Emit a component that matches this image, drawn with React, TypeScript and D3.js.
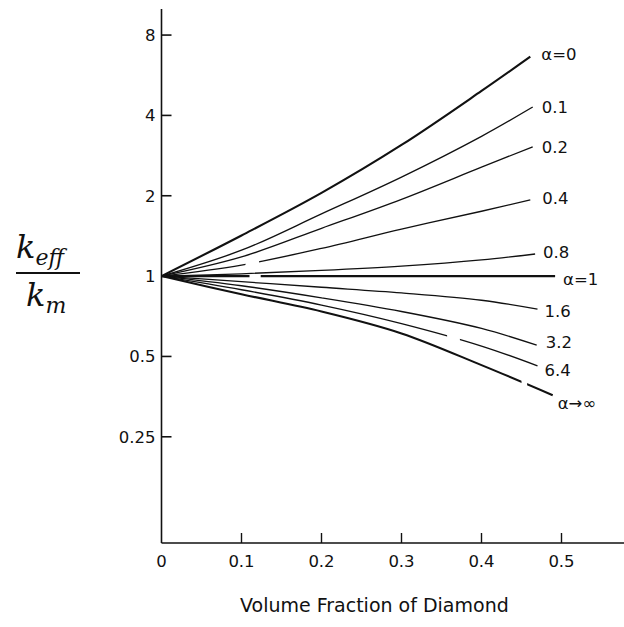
import React from "react";
import * as d3 from "d3";

// Volume fraction sample positions (x) for each curve
const phiGrid = [0, 0.1, 0.2, 0.3, 0.4];

// Curve labels and values (k_eff / k_m)
const curveNames = ["α=0", "0.1", "0.2", "0.4", "0.8", "α=1", "1.6", "3.2", "6.4", "α→∞"];
const curveEndPhi = [0.461, 0.464, 0.464, 0.461, 0.467, 0.492, 0.47, 0.469, 0.47, 0.489];
const valsA0 = [1, 1.42, 2.05, 3.1, 4.94, 6.64];
const valsA01 = [1, 1.25, 1.71, 2.35, 3.34, 4.3];
const valsA02 = [1, 1.18, 1.51, 1.94, 2.56, 3.05];
const valsA04 = [1, 1.1, 1.27, 1.5, 1.75, 1.93];
const valsA08 = [1, 1.02, 1.05, 1.09, 1.15, 1.21];
const valsA1 = [1, 1, 1, 1, 1, 1];
const valsA16 = [1, 0.953, 0.908, 0.865, 0.812, 0.752];
const valsA32 = [1, 0.92, 0.829, 0.737, 0.637, 0.551];
const valsA64 = [1, 0.889, 0.779, 0.664, 0.547, 0.461];
const valsAinf = [1, 0.855, 0.737, 0.61, 0.464, 0.358];
const allVals = [valsA0, valsA01, valsA02, valsA04, valsA08, valsA1, valsA16, valsA32, valsA64, valsAinf];
// small breaks in the printed lines (volume-fraction ranges)
const curveGaps: [number, number][][] = [[], [], [], [[0.105, 0.122]], [], [[0.11, 0.124]], [], [], [[0.357, 0.373]], [[0.45, 0.457]]];

const xTicks = [0, 0.1, 0.2, 0.3, 0.4, 0.5];
const xTickLabels = ["0", "0.1", "0.2", "0.3", "0.4", "0.5"];
const yTicks = [8, 4, 2, 1, 0.5, 0.25];
const yTickLabels = ["8", "4", "2", "1", "0.5", "0.25"];

const W = 624;
const H = 627;

export default function App() {
  const x = d3.scaleLinear().domain([0, 0.58]).range([161.5, 625.5]);
  const y = d3.scaleLog().domain([0.1, 10]).range([543, 9.2]);
  const line = d3
    .line<[number, number]>()
    .x((d) => x(d[0]))
    .y((d) => y(d[1]))
    .curve(d3.curveCatmullRom.alpha(0.5));

  const thick = new Set([0, 5, 9]);
  const labelFont = "'DejaVu Sans', 'Lato', sans-serif";

  // label offsets relative to curve end
  const labelDx = [11, 9, 9, 12, 8, 8, 7, 9, 7, 5];
  const labelDy = [-3, 0, 0, -2, -2, 3, 2, -3, 4, 8];

  return (
    <svg
      width={W}
      height={H}
      style={{ position: "absolute", left: 0, top: 0, background: "#fff" }}
    >
      <rect x={0} y={0} width={W} height={H} fill="#fff" />
      <defs>
        {curveGaps.map((gaps, i) =>
          gaps.length ? (
            <mask id={"gap" + i} key={"m" + i} maskUnits="userSpaceOnUse" x={0} y={0} width={W} height={H}>
              <rect x={0} y={0} width={W} height={H} fill="#fff" />
              {gaps.map((g, j) => (
                <rect key={j} x={x(g[0])} y={0} width={x(g[1]) - x(g[0])} height={H} fill="#000" />
              ))}
            </mask>
          ) : null
        )}
      </defs>
      {/* axes */}
      <line x1={x(0)} x2={x(0)} y1={9} y2={y(0.1)} stroke="#111" strokeWidth={1.6} />
      <line x1={x(0)} x2={W} y1={y(0.1)} y2={y(0.1)} stroke="#111" strokeWidth={1.6} />
      {yTicks.map((t, i) => (
        <g key={"yt" + i}>
          <line x1={x(0)} x2={x(0) + 10} y1={y(t)} y2={y(t)} stroke="#111" strokeWidth={1.6} />
          <text
            x={x(0) - 6}
            y={y(t)}
            dy="0.36em"
            textAnchor="end"
            fontFamily={labelFont}
            fontSize={16.5}
            fill="#111"
          >
            {yTickLabels[i]}
          </text>
        </g>
      ))}
      {xTicks.map((t, i) => (
        <g key={"xt" + i}>
          {i > 0 && (
            <line x1={x(t)} x2={x(t)} y1={y(0.1)} y2={y(0.1) - 10} stroke="#111" strokeWidth={1.4} />
          )}
          <text
            x={x(t)}
            y={567}
            textAnchor="middle"
            fontFamily={labelFont}
            fontSize={16.5}
            fill="#111"
          >
            {xTickLabels[i]}
          </text>
        </g>
      ))}
      {/* curves */}
      {allVals.map((vals, i) => {
        const pts: [number, number][] = vals.map((v, j) => [
          j < phiGrid.length ? phiGrid[j] : curveEndPhi[i],
          v,
        ]);
        return (
          <path
            key={"c" + i}
            d={line(pts) || ""}
            fill="none"
            stroke="#111"
            strokeWidth={thick.has(i) ? 2.1 : 1.35}
            mask={curveGaps[i].length ? `url(#gap${i})` : undefined}
          />
        );
      })}
      {/* curve labels */}
      {allVals.map((vals, i) => (
        <text
          key={"l" + i}
          x={x(curveEndPhi[i]) + labelDx[i]}
          y={y(vals[vals.length - 1]) + labelDy[i]}
          dy="0.36em"
          fontFamily={labelFont}
          fontSize={16.5}
          fill="#111"
        >
          {curveNames[i]}
        </text>
      ))}
      {/* x axis title */}
      <text
        x={240}
        y={612}
        textAnchor="start"
        fontFamily={labelFont}
        fontSize={19}
        fill="#111"
      >
        Volume Fraction of Diamond
      </text>
      {/* y axis title: k_eff / k_m */}
      <g fontFamily="'DejaVu Serif', 'Liberation Serif', serif" fontStyle="italic" fill="#111">
        <text x={16} y={258} fontSize={32}>
          k
          <tspan fontSize={22} dy={7}>
            eff
          </tspan>
        </text>
        <line x1={16} x2={80} y1={273} y2={273} stroke="#111" strokeWidth={2.2} />
        <text x={26} y={306} fontSize={32}>
          k
          <tspan fontSize={22} dy={7}>
            m
          </tspan>
        </text>
      </g>
    </svg>
  );
}
